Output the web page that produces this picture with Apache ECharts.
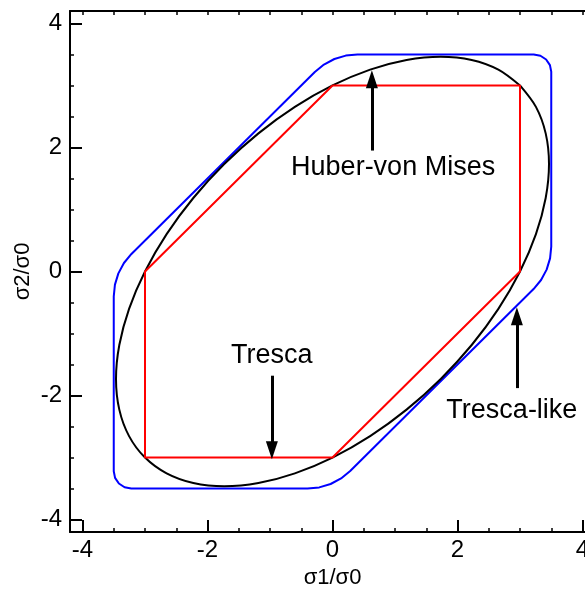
<!DOCTYPE html>
<html>
<head>
<meta charset="utf-8">
<script src="https://cdn.jsdelivr.net/npm/echarts@6/dist/echarts.min.js"></script>
<style>
  html, body { margin: 0; padding: 0; background: #fff; }
  #chart { width: 585px; height: 590px; }
</style>
</head>
<body>
<div id="chart"></div>
<script>
// yield surfaces, [sigma1/sigma0, sigma2/sigma0]
var trescaPts = [[0, 3], [3, 3], [3, 0], [0, -3], [-3, -3], [-3, 0], [0, 3]];

var misesPts = [
    [3, 3], [2.654, 3.255], [2.227, 3.411], [1.732, 3.464], [1.185, 3.411], [0.602, 3.255],
    [0, 3], [-0.602, 2.654], [-1.185, 2.227], [-1.732, 1.732], [-2.227, 1.185], [-2.654, 0.602],
    [-3, 0], [-3.255, -0.602], [-3.411, -1.185], [-3.464, -1.732], [-3.411, -2.227], [-3.255, -2.654],
    [-3, -3], [-2.654, -3.255], [-2.227, -3.411], [-1.732, -3.464], [-1.185, -3.411], [-0.602, -3.255],
    [0, -3], [0.602, -2.654], [1.185, -2.227], [1.732, -1.732], [2.227, -1.185], [2.654, -0.602],
    [3, 0], [3.255, 0.602], [3.411, 1.185], [3.464, 1.732], [3.411, 2.227], [3.255, 2.654], [3, 3]
];

var trescaLikePts = [
    [3.5, 0.4], [3.5, 3.22], [3.479, 3.327], [3.418, 3.418], [3.327, 3.479], [3.22, 3.5],
    [0.4, 3.5], [0.212, 3.481], [0.03, 3.426], [-0.137, 3.337], [-0.283, 3.217],
    [-3.217, 0.283], [-3.337, 0.137], [-3.426, -0.03], [-3.481, -0.212], [-3.5, -0.4],
    [-3.5, -3.22], [-3.479, -3.327], [-3.418, -3.418], [-3.327, -3.479], [-3.22, -3.5],
    [-0.4, -3.5], [-0.212, -3.481], [-0.03, -3.426], [0.137, -3.337], [0.283, -3.217],
    [3.217, -0.283], [3.337, -0.137], [3.426, 0.03], [3.481, 0.212], [3.5, 0.4]
];

var majorTicks = [-4, -2, 0, 2, 4];
var minorTicks = [-4, -3.5, -3, -2.5, -2, -1.5, -1, -0.5, 0, 0.5, 1, 1.5, 2, 2.5, 3, 3.5, 4];

// annotations: text, text position, arrow start, arrow end
var notes = [
    { text: 'Huber-von Mises', at: [0.97, 1.68], from: [0.63, 1.95], to: [0.63, 3.1] },
    { text: 'Tresca', at: [-0.97, -1.35], from: [-0.97, -1.68], to: [-0.97, -2.88] },
    { text: 'Tresca-like', at: [2.87, -2.24], from: [2.95, -1.88], to: [2.95, -0.72] }
];

var FONT = 'Liberation Sans, Arial, sans-serif';
var chart = echarts.init(document.getElementById('chart'));

function frameAxis(pos) {
    return {
        type: 'value',
        position: pos,
        min: -4.2,
        max: 4.2,
        axisLine: { show: true, onZero: false, lineStyle: { color: '#000', width: 2 } },
        axisTick: { show: true, inside: true, length: 4, customValues: minorTicks, lineStyle: { color: '#000', width: 1.5 } },
        axisLabel: { show: false },
        splitLine: { show: false }
    };
}

function minorAxis(pos) {
    return {
        type: 'value',
        position: pos,
        min: -4.2,
        max: 4.2,
        axisLine: { show: false, onZero: false },
        axisTick: { show: true, inside: true, length: 4, customValues: minorTicks, lineStyle: { color: '#000', width: 1.5 } },
        axisLabel: { show: false },
        splitLine: { show: false }
    };
}

function mainAxis(pos, name, isX) {
    return {
        type: 'value',
        position: pos,
        min: -4.2,
        max: 4.2,
        name: name,
        nameLocation: 'middle',
        nameGap: isX ? 35 : 36,
        nameMoveOverlap: false,
        nameRotate: isX ? 0 : 90,
        nameTextStyle: { color: '#000', fontSize: 22, fontFamily: FONT },
        axisLine: { show: true, onZero: false, lineStyle: { color: '#000', width: 2 } },
        axisTick: { show: true, inside: true, length: 12, customValues: majorTicks, lineStyle: { color: '#000', width: 2 } },
        axisLabel: { show: true, customValues: majorTicks, color: '#000', fontSize: 24, fontFamily: FONT, margin: isX ? 6 : 8 },
        splitLine: { show: false }
    };
}

var arrowLines = notes.map(function (n) {
    return [{ coord: n.from }, { coord: n.to }];
});
var textPoints = notes.map(function (n) {
    return { coord: n.at, value: n.text };
});

chart.setOption({
    animation: false,
    backgroundColor: '#fff',
    grid: { left: 70, top: 11, width: 525, height: 521, outerBoundsMode: 'none', containLabel: false },
    xAxis: [
        mainAxis('bottom', 'σ1/σ0', true),
        minorAxis('bottom'),
        frameAxis('top')
    ],
    yAxis: [
        mainAxis('left', 'σ2/σ0', false),
        minorAxis('left'),
        frameAxis('right')
    ],
    series: [{
        name: 'Tresca-like',
        type: 'line',
        data: trescaLikePts,
        symbol: 'none',
        lineStyle: { color: '#0000ff', width: 2 },
        silent: true
    }, {
        name: 'Huber-von Mises',
        type: 'line',
        data: misesPts,
        smooth: 0.3,
        symbol: 'none',
        lineStyle: { color: '#000', width: 2 },
        silent: true
    }, {
        name: 'Tresca',
        type: 'line',
        data: trescaPts,
        symbol: 'none',
        lineStyle: { color: '#ff0000', width: 2 },
        silent: true,
        markLine: {
            silent: true,
            symbol: ['none', 'triangle'],
            symbolSize: [12, 18],
            label: { show: false },
            lineStyle: { color: '#000', width: 3, type: 'solid' },
            itemStyle: { color: '#000' },
            data: arrowLines
        },
        markPoint: {
            silent: true,
            symbol: 'circle',
            symbolSize: 0,
            label: {
                show: true,
                position: 'inside',
                formatter: function (p) { return p.value; },
                color: '#000',
                fontSize: 27,
                fontFamily: FONT
            },
            data: textPoints
        }
    }]
});
</script>
</body>
</html>
